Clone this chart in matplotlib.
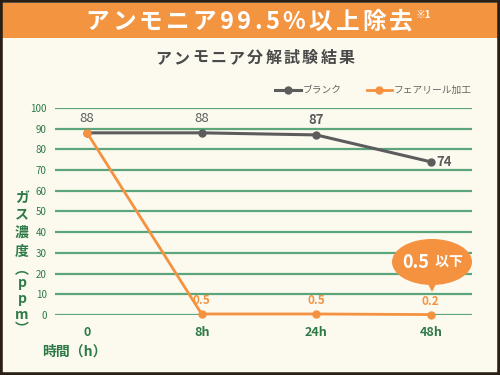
import matplotlib
matplotlib.use("Agg")
import matplotlib.pyplot as plt
from matplotlib.patches import Rectangle, Ellipse, Polygon

plt.rcParams['font.family'] = ['Noto Sans CJK JP', 'DejaVu Sans']

# data
times = ["0", "8h", "24h", "48h"]
blank = [88, 88, 87, 74]
treated = [88, 0.5, 0.5, 0.2]
treated_labels = ["", "0.5", "0.5", "0.2"]
yticks = [0, 10, 20, 30, 40, 50, 60, 70, 80, 90, 100]

gray = "#5c5c5c"
orange = "#f4923f"
green_line = "#5ba67b"
green_text = "#2e7a47"
bg = "#fcf9ef"

W, H = 500, 375
fig = plt.figure(figsize=(5, 3.75), dpi=100)
fig.patch.set_facecolor(bg)
renderer = fig.canvas.get_renderer()


def spaced_text(s, x0, x1, y, **kw):
    # spread characters evenly between pixel x0 and x1
    objs = [fig.text(0, 0, ch, ha="left", va="center", **kw) for ch in s]
    widths = [o.get_window_extent(renderer).width for o in objs]
    gap = (x1 - x0 - sum(widths)) / (len(s) - 1)
    pos = x0
    for o, w in zip(objs, widths):
        o.set_position((pos / W, 1 - y / H))
        pos += w + gap


# frame and banner
fig.patches.append(Rectangle((0, 0), 1, 1, transform=fig.transFigure,
                             fill=False, ec="#2a1f14", lw=4, zorder=10))
fig.patches.append(Rectangle((0, 1 - 38 / H), 1, 35 / H, transform=fig.transFigure,
                             fc="#f39441", ec="none", zorder=1))
spaced_text("アンモニア99.5%以上除去", 85, 413, 22, color="white", fontsize=17,
            fontweight="bold")
fig.text(416 / W, 1 - 15 / H, "※1", color="white", fontsize=7, fontweight="bold",
         ha="left", va="center")
spaced_text("アンモニア分解試験結果", 155, 355, 58, color="#4a4a4a", fontsize=11.5,
            fontweight="bold")

ax = fig.add_axes([55 / W, 1 - 315 / H, (472 - 55) / W, (315 - 108) / H])
ax.set_facecolor("none")
x = list(range(len(times)))
ax.set_xlim(-0.28, 3.36)
ax.set_ylim(0, 100)
for s in ax.spines.values():
    s.set_visible(False)
for v in yticks:
    ax.axhline(v, color=green_line, lw=1.6, zorder=1)

ax.plot(x, blank, color=gray, lw=2.2, marker="o", ms=5, zorder=3, clip_on=False,
        label="ブランク")
ax.plot(x, treated, color=orange, lw=2.0, marker="o", ms=5, zorder=4, clip_on=False,
        label="フェアリール加工")

for i, v in enumerate(blank):
    if i == 3:
        ax.annotate(str(v), (i, v), xytext=(4, 0), textcoords="offset points",
                    color=gray, fontsize=9.5, ha="left", va="center", fontweight="bold")
    else:
        ax.annotate(str(v), (i, v), xytext=(0, 6), textcoords="offset points",
                    color=gray, fontsize=9.5, ha="center", va="bottom",
                    fontweight="bold" if i == 2 else "normal")
for i, t in enumerate(treated_labels):
    if t:
        ax.annotate(t, (i, treated[i]), xytext=(0, 5), textcoords="offset points",
                    color=orange, fontsize=8.5, ha="center", va="bottom", fontweight="bold")

ax.set_yticks(yticks)
ax.set_yticklabels([str(v) for v in yticks], fontsize=7, color=green_text)
ax.set_xticks(x)
ax.set_xticklabels(times, fontsize=9, fontweight="bold", color=green_text)
ax.tick_params(length=0)
ax.tick_params(axis="y", pad=6)
ax.tick_params(axis="x", pad=8)

leg = ax.legend(loc="center right", bbox_to_anchor=(1.0, 1 + 18 / 207), ncol=2,
                frameon=False, fontsize=7, handlelength=2.6, columnspacing=2.6,
                borderaxespad=0, borderpad=0, handletextpad=0.2)
for t in leg.get_texts():
    t.set_color("#666666")

# callout bubble
cx, cy = 432 / W, 1 - 262 / H
fig.patches.append(Ellipse((cx, cy), 80 / W, 46 / H, transform=fig.transFigure,
                           fc=orange, ec="none", zorder=5))
fig.patches.append(Polygon([(cx - 6 / W, cy - 18 / H), (cx + 6 / W, cy - 18 / H),
                            (cx, cy - 30 / H)], transform=fig.transFigure,
                           fc=orange, ec="none", zorder=5))
fig.text(cx - 3 / W, cy, "0.5", color="white", fontsize=13, fontweight="bold",
         ha="right", va="center", zorder=6)
fig.text(cx, cy, " 以下", color="white", fontsize=10, fontweight="bold",
         ha="left", va="center", zorder=6)

# vertical y label
ylab = ["ガ", "ス", "濃", "度", "︵", "p", "p", "m", "︶"]
ypos = [198, 214, 233, 252, 270, 283, 299, 315, 329]
for ch, yy in zip(ylab, ypos):
    fig.text(22 / W, 1 - yy / H, ch, color=green_text, fontsize=10,
             fontweight="bold", ha="center", va="center")
fig.text(42 / W, 1 - 352 / H, "時間（h）", color=green_text, fontsize=10,
         fontweight="bold", ha="left", va="center")

fig.savefig("out.png", dpi=100, facecolor=bg)
